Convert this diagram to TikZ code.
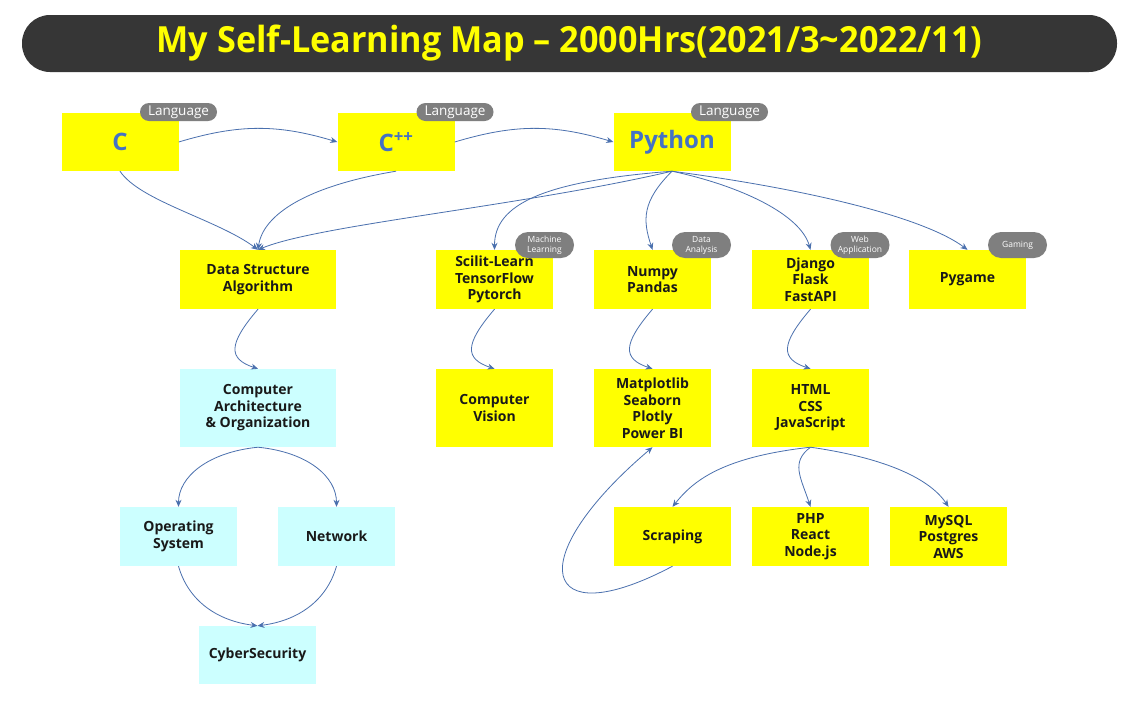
\documentclass[tikz,border=0pt]{standalone}
\usepackage{fontspec}
\setmainfont{Open Sans}
\newfontfamily\titlefont[FakeStretch=0.95]{Open Sans}
\usetikzlibrary{arrows.meta}
\definecolor{ylw}{HTML}{FFFF00}
\definecolor{cyn}{HTML}{CCFFFF}
\definecolor{arr}{HTML}{4A70AE}
\definecolor{tagg}{HTML}{7F7F7F}
\definecolor{bar}{HTML}{363636}
\definecolor{blu}{HTML}{4472C4}
\begin{document}
\begin{tikzpicture}[x=1pt,y=-1pt,
  box/.style={rectangle, fill=ylw, minimum width=117pt, minimum height=59pt, inner sep=0pt, align=center,
    font=\bfseries\fontsize{14}{16.5}\selectfont, text=black!90},
  tall/.style={box, minimum height=78pt},
  wide/.style={minimum width=156pt},
  cbox/.style={fill=cyn},
  lang/.style={box, text=blu, minimum width=117pt, minimum height=58pt, font=\bfseries\fontsize{24}{28}\selectfont},
  tag/.style={fill=tagg, text=white, rounded corners=9pt, minimum width=77pt, minimum height=18pt, inner sep=0pt,
    font=\fontsize{13.5}{15}\selectfont},
  stag/.style={fill=tagg, text=white, rounded corners=13pt, minimum width=59pt, minimum height=26pt, inner sep=0pt,
    align=center, font=\fontsize{8.5}{10}\selectfont},
  conn/.style={draw=arr, line width=0.8pt, -{Stealth[length=7pt,width=6pt]}}
]
\useasboundingbox[fill=white] (0,0) rectangle (1139,702);

% title
\node[fill=bar, rounded corners=28pt, minimum width=1095pt, minimum height=57pt, inner sep=0pt, text=ylw,
  font=\titlefont\bfseries\fontsize{36}{40}\selectfont] (title) at (569.5,43.5)
  {My Self-Learning Map – 2000Hrs(2021/3\textasciitilde2022/11)};

% languages
\node[lang] (c) at (120,142) {C};
\node[lang] (cpp) at (396,142) {C\textsuperscript{++}};
\node[lang] (py) at (672,142) {Python};

% row 2
\node[box, wide] (dsa) at (258,279.5) {Data Structure\\Algorithm};
\node[box] (ml) at (494.5,279.5) {Scilit-Learn\\TensorFlow\\Pytorch};
\node[box] (np) at (652.5,279.5) {Numpy\\Pandas};
\node[box] (dj) at (810.5,279.5) {Django\\Flask\\FastAPI};
\node[box] (pg) at (967.5,279.5) {Pygame};

% row 3
\node[tall, wide, cbox] (ca) at (258,408) {Computer\\Architecture\\\& Organization};
\node[tall] (cv) at (494.5,408) {Computer\\Vision};
\node[tall] (mpl) at (652.5,408) {Matplotlib\\Seaborn\\Plotly\\Power BI};
\node[tall] (html) at (810.5,408) {HTML\\CSS\\JavaScript};

% row 4
\node[box, cbox] (os) at (178.5,536.5) {Operating\\System};
\node[box, cbox] (net) at (336.5,536.5) {Network};
\node[box] (scr) at (672.5,536.5) {Scraping};
\node[box] (php) at (810.5,536.5) {PHP\\React\\Node.js};
\node[box] (sql) at (948.5,536.5) {MySQL\\Postgres\\AWS};

% row 5
\node[box, cbox, minimum height=58pt] (cyb) at (257.5,655) {CyberSecurity};

% tags
\node[tag] (t1) at (178.5,112) {Language};
\node[tag] (t2) at (455,112) {Language};
\node[tag] (t3) at (729.5,112) {Language};
\node[stag] (t4) at (544.5,245) {Machine\\Learning};
\node[stag] (t5) at (701.5,245) {Data\\Analysis};
\node[stag] (t6) at (860,245) {Web\\Application};
\node[stag] (t7) at (1017.5,245) {Gaming};

% connectors
\draw[conn] (c.east) .. controls +(60,-18) and +(-60,-18) .. (cpp.west);
\draw[conn] (cpp.east) .. controls +(60,-18) and +(-60,-18) .. (py.west);
\draw[conn] (c.south) .. controls +(20,30) and +(-40,-30) .. (dsa.north);
\draw[conn] (cpp.south) .. controls +(-90,15) and +(5,-35) .. (dsa.north);
\draw[conn] (py.south) .. controls +(-150,35) and +(60,-25) .. (dsa.north);
\draw[conn] (py.south) .. controls +(-130,10) and +(0,-45) .. (ml.north);
\draw[conn] (py.south) .. controls +(-30,30) and +(-10,-30) .. (np.north);
\draw[conn] (py.south) .. controls +(70,15) and +(-10,-35) .. (dj.north);
\draw[conn] (py.south) .. controls +(150,20) and +(-40,-30) .. (pg.north);

\draw[conn] (dsa.south) .. controls +(-30,35) and +(-30,-10) .. (ca.north);
\draw[conn] (ml.south) .. controls +(-30,35) and +(-30,-10) .. (cv.north);
\draw[conn] (np.south) .. controls +(-30,35) and +(-30,-10) .. (mpl.north);
\draw[conn] (dj.south) .. controls +(-30,35) and +(-30,-10) .. (html.north);

\draw[conn] (ca.south) .. controls +(-50,5) and +(0,-30) .. (os.north);
\draw[conn] (ca.south) .. controls +(50,5) and +(0,-30) .. (net.north);
\draw[conn] (os.south) .. controls +(10,35) and +(-40,-5) .. (cyb.north);
\draw[conn] (net.south) .. controls +(-10,35) and +(40,-5) .. (cyb.north);

\draw[conn] (html.south) .. controls +(-90,10) and +(20,-25) .. (scr.north);
\draw[conn] (html.south) .. controls +(-20,15) and +(-10,-30) .. (php.north);
\draw[conn] (html.south) .. controls +(70,10) and +(-20,-30) .. (sql.north);
\draw[conn] (scr.south) .. controls +(-132,70) and +(-132,112) .. (mpl.south);
\end{tikzpicture}
\end{document}
